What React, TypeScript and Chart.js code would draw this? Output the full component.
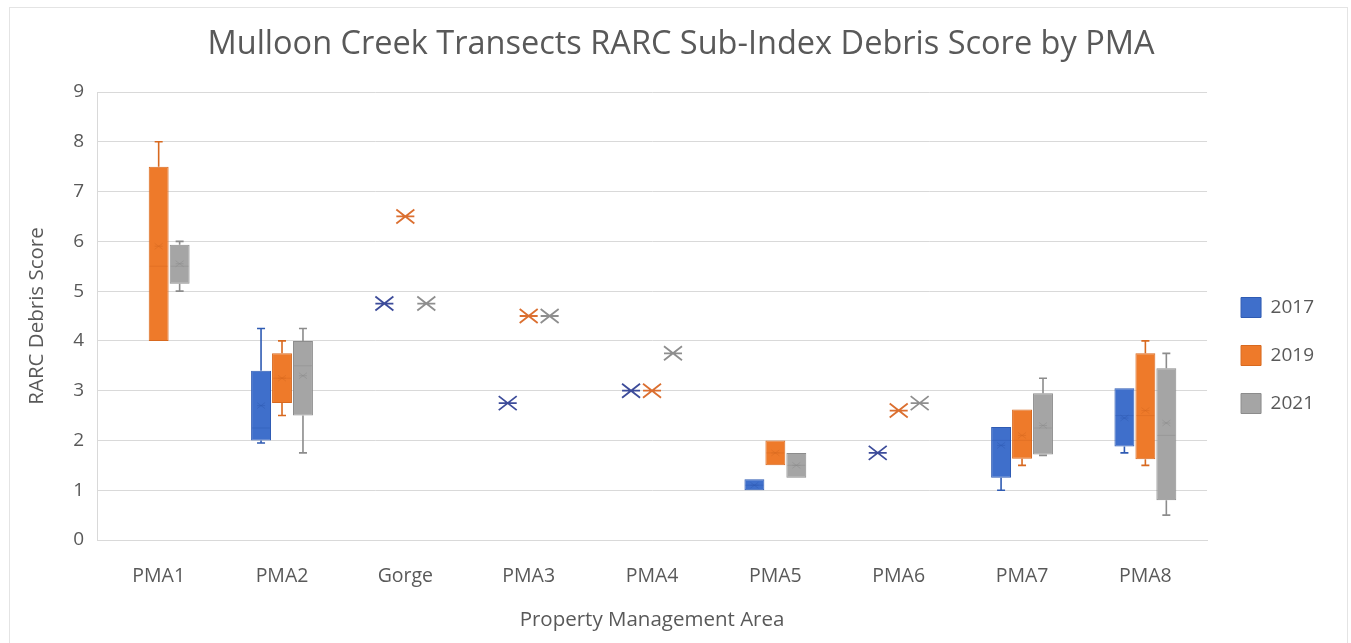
import React, { useEffect, useRef } from 'react';
import { Chart, registerables } from 'chart.js';

Chart.register(...registerables);

const categories = ['PMA1', 'PMA2', 'Gorge', 'PMA3', 'PMA4', 'PMA5', 'PMA6', 'PMA7', 'PMA8'];
const seriesNames = ['2017', '2019', '2021'];

// 2017
const min2017 = [null, 1.95, null, null, null, 1.0, null, 1.0, 1.75];
const q1_2017 = [null, 2.0, null, null, null, 1.0, null, 1.25, 1.88];
const med2017 = [null, 2.25, null, null, null, 1.1, null, 2.0, 2.5];
const q3_2017 = [null, 3.4, null, null, null, 1.22, null, 2.27, 3.05];
const max2017 = [null, 4.25, null, null, null, 1.22, null, 2.27, 3.05];
const mean2017 = [null, 2.7, 4.75, 2.75, 3.0, 1.1, 1.75, 1.9, 2.45];

// 2019
const min2019 = [4.0, 2.5, null, null, null, 1.5, null, 1.5, 1.5];
const q1_2019 = [4.0, 2.75, null, null, null, 1.5, null, 1.63, 1.62];
const med2019 = [5.5, 3.25, null, null, null, 1.75, null, 2.0, 2.5];
const q3_2019 = [7.5, 3.75, null, null, null, 2.0, null, 2.62, 3.75];
const max2019 = [8.0, 4.0, null, null, null, 2.0, null, 2.62, 4.0];
const mean2019 = [5.9, 3.25, 6.5, 4.5, 3.0, 1.75, 2.6, 2.1, 2.6];

// 2021
const min2021 = [5.0, 1.75, null, null, null, 1.25, null, 1.7, 0.5];
const q1_2021 = [5.15, 2.5, null, null, null, 1.25, null, 1.72, 0.8];
const med2021 = [5.5, 3.5, null, null, null, 1.5, null, 2.25, 2.1];
const q3_2021 = [5.93, 4.0, null, null, null, 1.75, null, 2.95, 3.45];
const max2021 = [6.0, 4.25, null, null, null, 1.75, null, 3.25, 3.75];
const mean2021 = [5.55, 3.3, 4.75, 4.5, 3.75, 1.5, 2.75, 2.3, 2.35];

const yTicks = [0, 1, 2, 3, 4, 5, 6, 7, 8, 9];

const fillColors = ['#3F6FCB', '#EE7A2A', '#A5A5A5'];
const lineColors = ['#2F5BB3', '#D8691F', '#8C8C8C'];
const markerColors = ['#3D4C9A', '#DB6F30', '#8E8E8E'];

const boxStats = [
  { min: min2017, q1: q1_2017, med: med2017, q3: q3_2017, max: max2017, mean: mean2017 },
  { min: min2019, q1: q1_2019, med: med2019, q3: q3_2019, max: max2019, mean: mean2019 },
  { min: min2021, q1: q1_2021, med: med2021, q3: q3_2021, max: max2021, mean: mean2021 },
];

const FONT = "'Open Sans', 'DejaVu Sans', sans-serif";
const TEXT = '#595959';

const whiskerPlugin = {
  id: 'whiskers',
  afterDatasetsDraw(chart: any) {
    const ctx = chart.ctx;
    const y = chart.scales.y;
    boxStats.forEach((st, d) => {
      const meta = chart.getDatasetMeta(d);
      meta.data.forEach((el: any, i: number) => {
        const x = el.x;
        const w = el.width;
        ctx.save();
        if (st.q3[i] != null && st.q1[i] != null) {
          ctx.strokeStyle = lineColors[d];
          ctx.lineWidth = 1.6;
          const cap = 4;
          if (st.max[i] != null && st.max[i] > st.q3[i]) {
            const y1 = y.getPixelForValue(st.q3[i]);
            const y2 = y.getPixelForValue(st.max[i]);
            ctx.beginPath();
            ctx.moveTo(x, y1); ctx.lineTo(x, y2);
            ctx.moveTo(x - cap, y2); ctx.lineTo(x + cap, y2);
            ctx.stroke();
          }
          if (st.min[i] != null && st.min[i] < st.q1[i]) {
            const y1 = y.getPixelForValue(st.q1[i]);
            const y2 = y.getPixelForValue(st.min[i]);
            ctx.beginPath();
            ctx.moveTo(x, y1); ctx.lineTo(x, y2);
            ctx.moveTo(x - cap, y2); ctx.lineTo(x + cap, y2);
            ctx.stroke();
          }
          if (st.med[i] != null) {
            const ym = y.getPixelForValue(st.med[i]);
            ctx.globalAlpha = 0.45;
            ctx.lineWidth = 1;
            ctx.beginPath();
            ctx.moveTo(x - w / 2 + 1, ym); ctx.lineTo(x + w / 2 - 1, ym);
            ctx.stroke();
          }
        }
        ctx.restore();
        if (st.mean[i] != null) {
          const inside = st.q3[i] != null;
          const ym = y.getPixelForValue(st.mean[i]);
          const hw = inside ? 4 : 9;
          const hh = inside ? 3 : 7;
          ctx.save();
          ctx.strokeStyle = inside ? lineColors[d] : markerColors[d];
          ctx.globalAlpha = inside ? 0.5 : 1;
          ctx.lineWidth = inside ? 1 : 1.8;
          ctx.beginPath();
          ctx.moveTo(x - hw, ym - hh); ctx.lineTo(x + hw, ym + hh);
          ctx.moveTo(x - hw, ym + hh); ctx.lineTo(x + hw, ym - hh);
          ctx.moveTo(x - hw, ym); ctx.lineTo(x + hw, ym);
          ctx.stroke();
          ctx.restore();
        }
      });
    });
  },
};

const layoutNudge = {
  id: 'layoutNudge',
  afterLayout(chart: any) {
    const l = chart.legend;
    if (l) {
      l.left += 6; l.right += 6;
      l.top += 38; l.bottom += 38;
    }
    const t = chart.titleBlock;
    if (t) {
      t.left += 17; t.right += 17;
    }
  },
};

export default function App() {
  const ref = useRef<HTMLCanvasElement>(null);
  useEffect(() => {
    const datasets = boxStats.map((st, d) => ({
      label: seriesNames[d],
      data: categories.map((_, i) => (st.q1[i] != null && st.q3[i] != null ? [st.q1[i], st.q3[i]] : null)),
      backgroundColor: fillColors[d],
      borderColor: lineColors[d],
      borderWidth: 1,
      borderSkipped: false,
      categoryPercentage: 0.51,
      barPercentage: 0.95,
    }));
    const chart = new Chart(ref.current as HTMLCanvasElement, {
      type: 'bar',
      data: { labels: categories, datasets: datasets as any },
      options: {
        responsive: false,
        animation: false,
        devicePixelRatio: 1,
        layout: { padding: { left: 10, right: 33, top: 0, bottom: 8 } },
        plugins: {
          title: {
            display: true,
            text: 'Mulloon Creek Transects RARC Sub-Index Debris Score by PMA',
            color: TEXT,
            font: { family: FONT, size: 32.5, weight: 'normal' },
            padding: { top: 25, bottom: 28 },
          },
          legend: {
            position: 'right',
            labels: {
              boxWidth: 20,
              boxHeight: 20,
              padding: 28,
              color: TEXT,
              font: { family: FONT, size: 19 },
            },
          },
          tooltip: { enabled: false },
        },
        scales: {
          x: {
            grid: { display: false },
            border: { display: true, color: '#d9d9d9' },
            ticks: { color: TEXT, font: { family: FONT, size: 19.5 }, padding: 17 },
            title: {
              display: true,
              text: 'Property Management Area',
              color: TEXT,
              font: { family: FONT, size: 20.5 },
              padding: { top: 0, bottom: 3 },
            },
            afterFit: (s: any) => { s.height = 95; },
          },
          y: {
            min: 0,
            max: 9,
            afterBuildTicks: (s: any) => { s.ticks = yTicks.map((v) => ({ value: v })); },
            grid: { color: '#d9d9d9', drawTicks: false },
            border: { display: true, color: '#d9d9d9' },
            ticks: { color: TEXT, font: { family: FONT, size: 19 }, padding: 13 },
            title: {
              display: true,
              text: 'RARC Debris Score',
              color: TEXT,
              font: { family: FONT, size: 20.5 },
              padding: { top: 15, bottom: 0 },
            },
            afterFit: (s: any) => { s.width = 87; },
          },
        },
      },
      plugins: [whiskerPlugin, layoutNudge],
    });
    return () => chart.destroy();
  }, []);
  return (
    <div style={{ position: 'absolute', left: 0, top: 0, width: 1351, height: 643, background: '#fff', overflow: 'hidden' }}>
      <canvas ref={ref} width={1351} height={643} style={{ display: 'block' }} />
      <div style={{ position: 'absolute', left: 9, top: 7, width: 1337, height: 640, border: '1px solid #e4e4e4', pointerEvents: 'none' }} />
    </div>
  );
}
